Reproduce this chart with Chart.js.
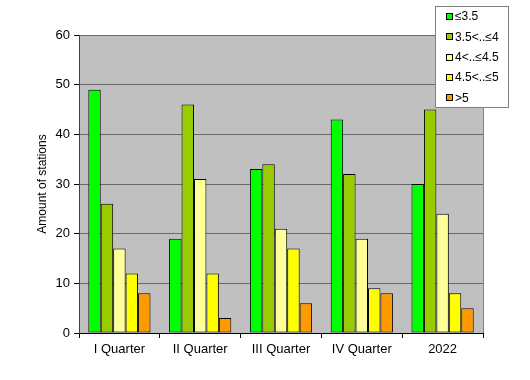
<!DOCTYPE html>
<html><head><meta charset="utf-8">
<script src="https://cdn.jsdelivr.net/npm/chart.js@4/dist/chart.umd.min.js"></script>
<style>html,body{margin:0;padding:0;background:#fff}canvas{display:block}</style>
</head><body>
<canvas id="c" width="530" height="380"></canvas>
<script>
const categories = ["I Quarter", "II Quarter", "III Quarter", "IV Quarter", "2022"];
const seriesLabels = ["≤3.5", "3.5<..≤4", "4<..≤4.5", "4.5<..≤5", ">5"];
const s1 = [49, 19, 33, 43, 30];
const s2 = [26, 46, 34, 32, 45];
const s3 = [17, 31, 21, 19, 24];
const s4 = [12, 12, 17, 9, 8];
const s5 = [8, 3, 6, 8, 5];
const yTicks = [0, 10, 20, 30, 40, 50, 60];
const colors = ["#00FF00", "#99CC00", "#FFFF99", "#FFFF00", "#FF9900"];

const FONT = "'Liberation Sans', Arial, sans-serif";

const bgPlugin = {
  id: 'bg',
  beforeDraw(chart) {
    const {ctx, chartArea: a} = chart;
    ctx.save();
    ctx.fillStyle = '#C0C0C0';
    ctx.fillRect(a.left, a.top, a.right - a.left, a.bottom - a.top);
    ctx.strokeStyle = '#808080';
    ctx.lineWidth = 1;
    ctx.beginPath();
    ctx.moveTo(a.right + 0.5, a.top);
    ctx.lineTo(a.right + 0.5, a.bottom);
    ctx.stroke();
    ctx.restore();
  }
};

const legendPlugin = {
  id: 'customLegend',
  afterDraw(chart) {
    const ctx = chart.ctx;
    const x0 = 435, y0 = 6, w = 73, h = 101;
    ctx.save();
    ctx.fillStyle = '#FFFFFF';
    ctx.fillRect(x0, y0, w, h);
    ctx.strokeStyle = '#808080';
    ctx.lineWidth = 1;
    ctx.strokeRect(x0 + 0.5, y0 + 0.5, w, h);
    ctx.font = "12px " + FONT;
    ctx.textBaseline = 'middle';
    chart.data.datasets.forEach((ds, i) => {
      const cy = y0 + 10 + i * 20.3;
      ctx.fillStyle = ds.backgroundColor;
      ctx.fillRect(446, Math.round(cy) - 3, 7, 7);
      ctx.strokeStyle = '#000';
      ctx.strokeRect(446.5, Math.round(cy) - 2.5, 6, 6);
      ctx.fillStyle = '#000';
      ctx.fillText(ds.label, 455, cy + 1);
    });
    ctx.restore();
  }
};

const seriesData = [s1, s2, s3, s4, s5];
new Chart(document.getElementById('c'), {
  type: 'bar',
  data: {
    labels: categories,
    datasets: seriesData.map((d, i) => ({
      label: seriesLabels[i],
      data: d,
      backgroundColor: colors[i],
      borderColor: '#000',
      borderWidth: 1,
      borderSkipped: false,
      barPercentage: 1,
      categoryPercentage: 0.77
    }))
  },
  options: {
    responsive: false,
    animation: false,
    devicePixelRatio: 1,
    layout: {padding: {left: 0, top: 35, right: 47, bottom: 0}},
    plugins: {legend: {display: false}, tooltip: {enabled: false}},
    scales: {
      x: {
        grid: {display: true, offset: true, drawOnChartArea: false, color: '#000', tickLength: 5, lineWidth: 1},
        border: {display: true, color: '#000'},
        ticks: {color: '#000', font: {family: FONT, size: 13}, padding: 4, maxRotation: 0},
        afterFit(s) { s.height = 47; }
      },
      y: {
        min: 0, max: 60,
        afterBuildTicks(s) { s.ticks = yTicks.map(v => ({value: v})); },
        grid: {color: '#6a6a6a', lineWidth: 1, tickLength: 5, drawTicks: true,
               tickColor: '#000'},
        border: {display: true, color: '#404040'},
        ticks: {color: '#000', font: {family: FONT, size: 13}, padding: 4},
        title: {display: true, text: 'Amount of stations', color: '#000', font: {family: FONT, size: 12}, padding: {top: 35, bottom: 8}},
        afterFit(s) { s.width = 79; }
      }
    }
  },
  plugins: [bgPlugin, legendPlugin]
});
</script>
</body></html>
